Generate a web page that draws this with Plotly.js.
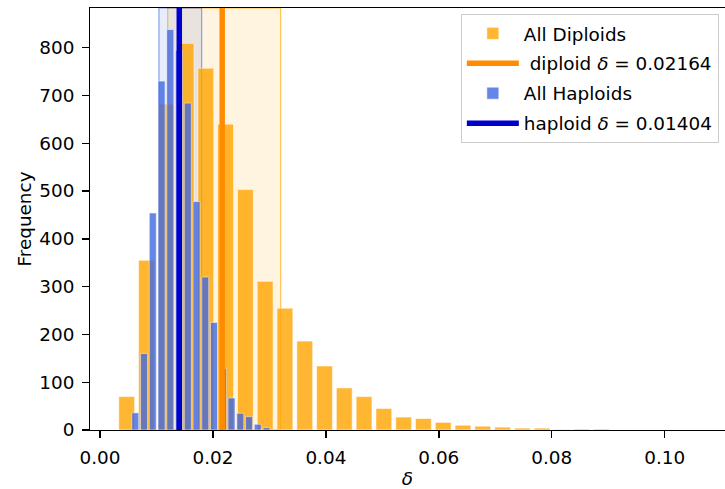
<!DOCTYPE html>
<html>
<head>
<meta charset="utf-8">
<script src="https://cdn.plot.ly/plotly-3.0.1.min.js"></script>
<style>html,body{margin:0;padding:0;background:#fff;}#chart{width:725px;height:489px;}</style>
</head>
<body>
<div id="chart"></div>
<script>
// ---- data ----
const dipCenters = [0.00473, 0.00823, 0.01173, 0.01524, 0.01874, 0.02224, 0.02575, 0.02925, 0.03275, 0.03626,
                    0.03976, 0.04326, 0.04676, 0.05027, 0.05377, 0.05727, 0.06078, 0.06428, 0.06778, 0.07129,
                    0.07479, 0.07829, 0.08179, 0.08530, 0.08880];
const dipCounts  = [70, 355, 682, 809, 757, 640, 503, 311, 255, 186,
                    134, 88, 70, 45, 27, 24, 16, 10, 8, 6,
                    4, 4, 1, 2, 2];
const dipBinWidth = 0.0035029;

const hapCenters = [0.00625, 0.00780, 0.00935, 0.01090, 0.01245, 0.01400, 0.01555, 0.01710,
                    0.01864, 0.02019, 0.02174, 0.02329, 0.02484, 0.02639, 0.02794, 0.02949];
const hapCounts  = [36, 160, 454, 730, 838, 794, 684, 478, 320, 225, 129, 67, 35, 28, 12, 5];
const hapBinWidth = 0.001549;

const dipDelta = 0.02164;
const hapDelta = 0.01404;
const dipSpan = [0.0120, 0.0320];
const hapSpan = [0.01044, 0.0180];

const legendNames = ["All Diploids", " diploid <i>δ</i> = 0.02164", "All Haploids", "haploid <i>δ</i> = 0.01404"];
const xTicks = [0.00, 0.02, 0.04, 0.06, 0.08, 0.10];
const yTicks = [0, 100, 200, 300, 400, 500, 600, 700, 800];

// ---- layout / styling ----
const xRange = [-0.00177, 0.11068];
const yRange = [0, 883];
const FONT = "DejaVu Sans, sans-serif";
const FS = 18.4;

const traces = [
  {type: "bar", x: dipCenters, y: dipCounts, width: dipBinWidth * 0.8, name: legendNames[0],
   marker: {color: "orange", line: {color: "rgba(255,255,255,0.55)", width: 1}}, opacity: 0.8,
   legendrank: 1, legendgroup: "a"},
  {type: "bar", x: hapCenters, y: hapCounts, width: hapBinWidth * 0.8, name: legendNames[2],
   marker: {color: "royalblue", line: {color: "rgba(255,255,255,0.55)", width: 1}}, opacity: 0.8,
   legendrank: 3, legendgroup: "c"},
  {type: "scatter", mode: "lines", x: [dipDelta, dipDelta], y: yRange, name: legendNames[1],
   line: {color: "#FF8C00", width: 5.5}, legendrank: 2, legendgroup: "b"},
  {type: "scatter", mode: "lines", x: [hapDelta, hapDelta], y: yRange, name: legendNames[3],
   line: {color: "#0000CD", width: 5.5}, legendrank: 4, legendgroup: "d"}
];

const shapes = [
  {type: "rect", xref: "x", yref: "paper", x0: dipSpan[0], x1: dipSpan[1], y0: 0, y1: 1, layer: "below",
   fillcolor: "rgba(255,165,0,0.12)", line: {color: "rgba(255,165,0,0.75)", width: 1}},
  {type: "rect", xref: "x", yref: "paper", x0: hapSpan[0], x1: hapSpan[1], y0: 0, y1: 1, layer: "below",
   fillcolor: "rgba(65,105,225,0.12)", line: {color: "rgba(65,105,225,0.6)", width: 1.2}}
];

const layout = {
  width: 725, height: 489,
  margin: {l: 90, r: 0, t: 8, b: 59},
  paper_bgcolor: "#fff", plot_bgcolor: "#fff",
  font: {family: FONT, size: FS, color: "#000"},
  barmode: "overlay",
  bargap: 0,
  showlegend: true,
  legend: {x: 0.584, y: 0.986, xanchor: "left", yanchor: "top", bgcolor: "rgba(255,255,255,0.85)",
           bordercolor: "#cccccc", borderwidth: 1, font: {family: FONT, size: FS, color: "#000"},
           tracegroupgap: 3, traceorder: "grouped", itemwidth: 52},
  xaxis: {range: xRange, tickvals: xTicks, tickformat: ".2f", ticks: "outside", ticklen: 6.5, tickwidth: 1.4,
          tickcolor: "#000", showline: true, linecolor: "#000", linewidth: 1.4, mirror: true,
          showgrid: false, zeroline: false, ticklabelstandoff: 4,
          title: {text: "<i>δ</i>", font: {family: FONT, size: FS}, standoff: 6}},
  yaxis: {range: yRange, tickvals: yTicks, ticks: "outside", ticklen: 6.5, tickwidth: 1.4,
          tickcolor: "#000", showline: true, linecolor: "#000", linewidth: 1.4, mirror: true,
          showgrid: false, zeroline: false, ticklabelstandoff: 4,
          title: {text: "Frequency", font: {family: FONT, size: FS}, standoff: 3}},
  shapes: shapes
};

Plotly.newPlot("chart", traces, layout, {displayModeBar: false, staticPlot: true});
</script>
</body>
</html>
